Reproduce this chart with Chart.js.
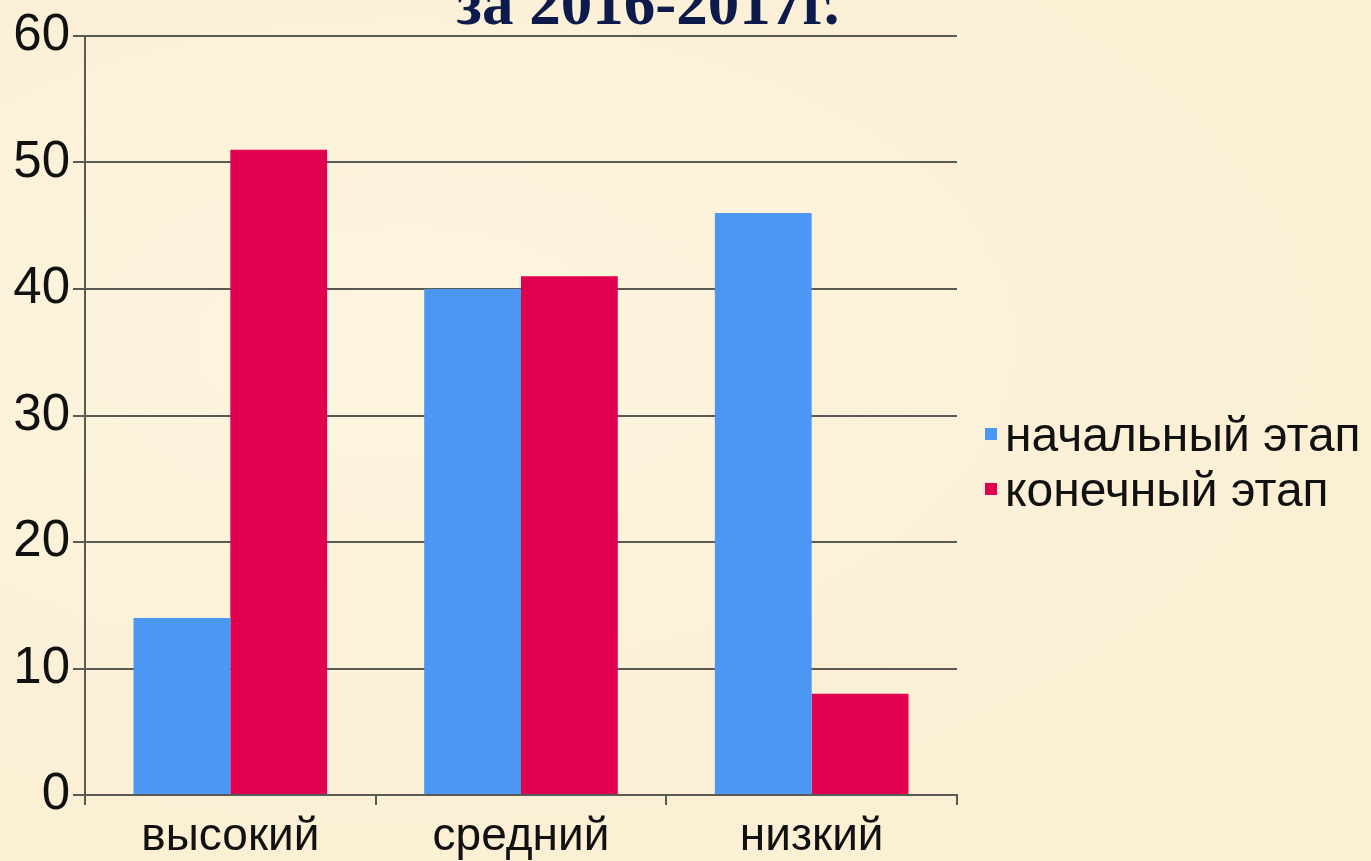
<!DOCTYPE html>
<html>
<head>
<meta charset="utf-8">
<script src="https://cdn.jsdelivr.net/npm/chart.js@4.4.1/dist/chart.umd.min.js"></script>
<style>
  html, body { margin: 0; padding: 0; }
  body {
    width: 1371px; height: 861px; overflow: hidden; position: relative;
    background: #fcf2da;
    background-image: radial-gradient(ellipse at 30% 40%, #fdf5e0 0%, #fbefd4 70%);
  }
  #wrap { position: absolute; left: 0; top: 0; width: 1371px; height: 861px; }
  #title {
    position: absolute; left: 0; width: 1296px; top: -28px; text-align: center;
    font-family: "Liberation Serif", "DejaVu Serif", serif; font-weight: bold;
    font-size: 63px; line-height: 1; color: #0c1a4c; white-space: nowrap;
  }
  .leg { position: absolute; left: 985px; font-family: "Liberation Sans", Arial, sans-serif;
    font-size: 48px; color: #111; white-space: nowrap; line-height: 1; }
  .leg i { display: inline-block; width: 12px; height: 12px; margin-right: 8px; vertical-align: middle; position: relative; top: -4px; }
</style>
</head>
<body>
<div id="wrap"><canvas id="c" width="1371" height="861"></canvas></div>
<div id="title">за 2016-2017г.</div>
<div id="legend"></div>
<script>
const categories = ["высокий", "средний", "низкий"];
const seriesNames = ["начальный этап", "конечный этап"];
const initialValues = [14, 40, 46];
const finalValues = [51, 41, 8];
const yTicks = [0, 10, 20, 30, 40, 50, 60];
const colors = ["#4b97f3", "#e1004f"];

const gridColor = "#5a5a54";

new Chart(document.getElementById("c"), {
  type: "bar",
  data: {
    labels: categories,
    datasets: [
      { label: seriesNames[0], data: initialValues, backgroundColor: colors[0], borderWidth: 0 },
      { label: seriesNames[1], data: finalValues, backgroundColor: colors[1], borderWidth: 0 }
    ]
  },
  options: {
    responsive: false,
    animation: false,
    maintainAspectRatio: false,
    layout: { padding: { left: 0, right: 414, top: 36, bottom: 0 } },
    plugins: { legend: { display: false }, title: { display: false }, tooltip: { enabled: false } },
    datasets: { bar: { categoryPercentage: 0.666, barPercentage: 1.0 } },
    scales: {
      x: {
        offset: true,
        grid: { offset: true, display: true, drawOnChartArea: false, drawTicks: true, tickLength: 10, color: gridColor, lineWidth: 2 },
        border: { display: true, color: gridColor, width: 2 },
        ticks: { color: "#111", font: { family: "Liberation Sans", size: 46 }, padding: 5, maxRotation: 0 },
        afterFit: (s) => { s.height = 66; }
      },
      y: {
        min: 0, max: 60,
        afterBuildTicks: (s) => { s.ticks = yTicks.map(v => ({ value: v })); },
        grid: { color: gridColor, lineWidth: 2, tickLength: 12, drawTicks: true },
        border: { display: true, color: gridColor, width: 2 },
        ticks: { color: "#111", font: { family: "Liberation Sans", size: 51 }, padding: 3 },
        afterFit: (s) => { s.width = 85; }
      }
    }
  }
});

const legend = document.getElementById("legend");
const rowsY = [411, 466];
seriesNames.forEach((n, i) => {
  const d = document.createElement("div");
  d.className = "leg";
  d.style.top = rowsY[i] + "px";
  d.innerHTML = '<i style="background:' + colors[i] + '"></i>' + n;
  legend.appendChild(d);
});
</script>
</body>
</html>
